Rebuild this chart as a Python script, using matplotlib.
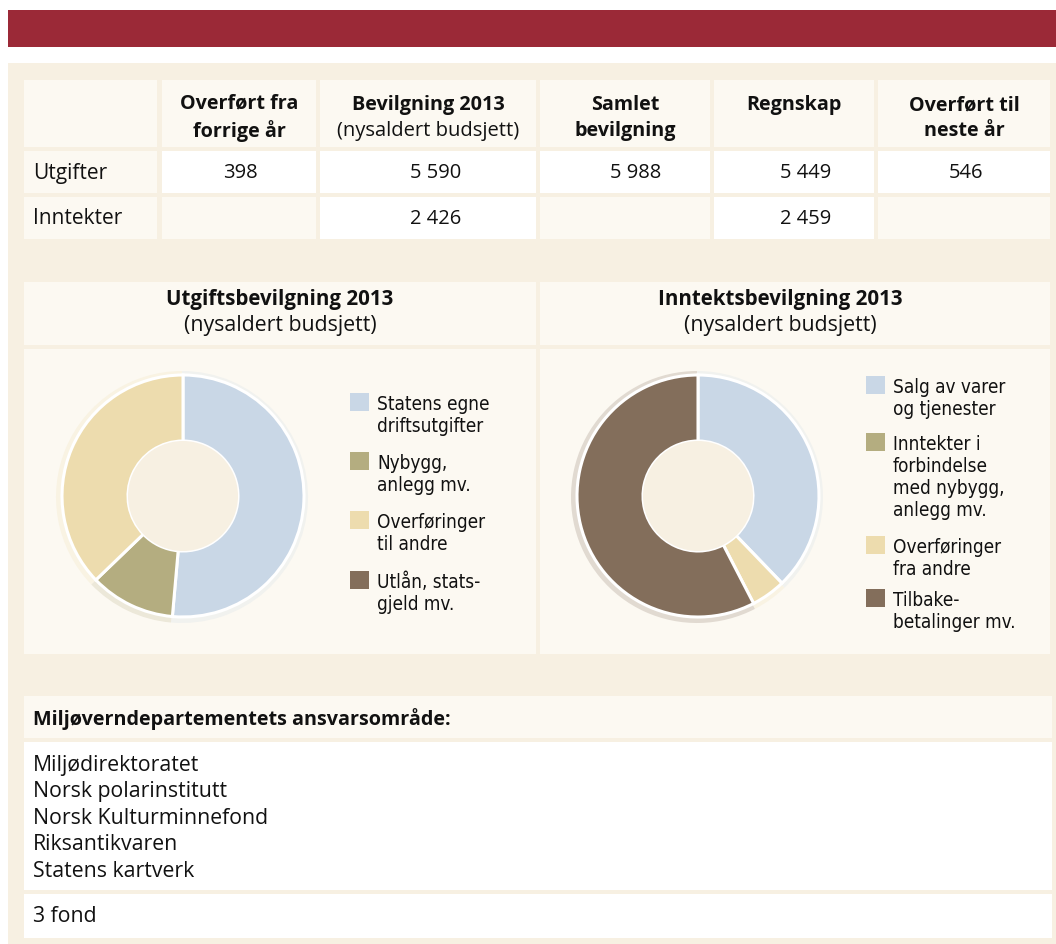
import matplotlib
matplotlib.use("Agg")
import matplotlib.pyplot as plt
from matplotlib.patches import Rectangle, Circle
from matplotlib.colors import to_rgb
from matplotlib import font_manager

W, H = 1056, 944

# table data
col_titles = ["Overført fra\nforrige år", "Bevilgning 2013", "Samlet\nbevilgning", "Regnskap", "Overført til\nneste år"]
col_subtitles = ["", "(nysaldert budsjett)", "", "", ""]
row_labels = ["Utgifter", "Inntekter"]
utgifter_vals = ["398", "5 590", "5 988", "5 449", "546"]
inntekter_vals = ["", "2 426", "", "2 459", ""]

# donut data (share of total, %)
utg_title = "Utgiftsbevilgning 2013"
utg_labels = ["Statens egne\ndriftsutgifter", "Nybygg,\nanlegg mv.", "Overføringer\ntil andre", "Utlån, stats-\ngjeld mv."]
utg_shares = [51.4, 11.4, 37.2, 0.0]
inn_title = "Inntektsbevilgning 2013"
inn_labels = ["Salg av varer\nog tjenester", "Inntekter i\nforbindelse\nmed nybygg,\nanlegg mv.", "Overføringer\nfra andre", "Tilbake-\nbetalinger mv."]
inn_shares = [37.8, 0.0, 4.6, 57.6]
pie_subtitle = "(nysaldert budsjett)"

# responsibility list
area_title = "Miljøverndepartementets ansvarsområde:"
units = ["Miljødirektoratet", "Norsk polarinstitutt", "Norsk Kulturminnefond", "Riksantikvaren", "Statens kartverk"]
fund_line = "3 fond"

RED = "#9B2937"
PANEL = "#F7F0E2"
LIGHT = "#FCF9F2"
WHITE = "#FFFFFF"
slice_colors = ["#C9D7E6", "#B4AD80", "#EDDCAE", "#836E5B"]

plt.rcParams['font.family'] = ['Open Sans', 'DejaVu Sans']

# a narrow face for the legend texts, if one is installed
narrow = dict(family=['Roboto', 'DejaVu Sans'], fontstretch='normal', size=13.2)
for fam, stretch in [('Liberation Sans Narrow', 'normal'), ('DejaVu Sans', 'condensed')]:
    try:
        path = font_manager.findfont(font_manager.FontProperties(family=fam, stretch=stretch),
                                     fallback_to_default=False)
    except ValueError:
        continue
    if 'Narrow' in path or 'Condensed' in path:
        narrow = dict(family=[fam, 'DejaVu Sans'], fontstretch=stretch, size=13.6)
        break

fig = plt.figure(figsize=(W / 100, H / 100), dpi=100)
ax = fig.add_axes([0, 0, 1, 1])


def box(x0, y0, x1, y1, color, z=1):
    ax.add_patch(Rectangle((x0, H - y1), x1 - x0, y1 - y0, facecolor=color, edgecolor='none', zorder=z))


def txt(x, y, s, **kw):
    kw.setdefault('color', '#111111')
    kw.setdefault('va', 'center')
    return ax.text(x, H - y, s, zorder=10, **kw)


def mix(c, bg, a):
    c, bg = to_rgb(c), to_rgb(bg)
    return tuple(a * ci + (1 - a) * bi for ci, bi in zip(c, bg))


# background frame
box(8, 10, W, 47, RED)
box(8, 63, W, H, PANEL)

# table
cols = [(24, 157), (162, 316), (320, 536), (540, 710), (714, 874), (878, 1050)]
val_x = [240, 436, 636, 806, 966]
box(cols[0][0], 80, cols[0][1], 147, LIGHT)
for i, (x0, x1) in enumerate(cols[1:]):
    box(x0, 80, x1, 147, LIGHT)
    cx = (x0 + x1) / 2
    if col_subtitles[i]:
        txt(cx, 105, col_titles[i], ha='center', fontsize=14.2, fontweight='bold')
        txt(cx, 131, col_subtitles[i], ha='center', fontsize=14.5)
    else:
        txt(cx, 105 if '\n' not in col_titles[i] else 118, col_titles[i], ha='center',
            fontsize=14.2, fontweight='bold', linespacing=1.4)

row_y = [(151, 193), (197, 239)]
for (y0, y1), lab, vals in zip(row_y, row_labels, [utgifter_vals, inntekter_vals]):
    box(cols[0][0], y0, cols[0][1], y1, LIGHT)
    txt(33, (y0 + y1) / 2 + 1, lab, ha='left', fontsize=15)
    for j, (x0, x1) in enumerate(cols[1:]):
        box(x0, y0, x1, y1, WHITE if vals[j] else LIGHT)
        if vals[j]:
            txt(val_x[j], (y0 + y1) / 2 + 1, vals[j], ha='center', fontsize=14.5)

# donut panels
panels = [
    (24, 536, 280, 183, 350, utg_title, utg_labels, utg_shares, [393, 452, 511, 571]),
    (540, 1050, 780, 698, 866, inn_title, inn_labels, inn_shares, [376, 433, 536, 589]),
]
R, R_IN = 121, 55
for x0, x1, tx, cx, lx, title, labels, shares, tops in panels:
    box(x0, 282, x1, 345, LIGHT)
    box(x0, 349, x1, 654, LIGHT)
    txt(tx, 300, title, ha='center', fontsize=14.8, fontweight='bold')
    txt(tx, 326, pie_subtitle, ha='center', fontsize=15.3)

    vals = [v for v in shares if v > 0]
    cols_used = [c for v, c in zip(shares, slice_colors) if v > 0]
    # soft outer halo
    ax.pie(vals, colors=[mix(c, LIGHT, 0.22) for c in cols_used], radius=R + 5,
           center=(cx - 1, H - 496 - 1), startangle=90, counterclock=False, frame=True,
           wedgeprops=dict(width=20, linewidth=0))
    ax.pie(vals, colors=cols_used, radius=R, center=(cx, H - 496), startangle=90,
           counterclock=False, frame=True,
           wedgeprops=dict(width=R - R_IN, edgecolor='white', linewidth=2.2))
    ax.add_patch(Circle((cx, H - 496), R_IN, facecolor=PANEL, edgecolor='none', zorder=5))

    for lab, col, top in zip(labels, slice_colors, tops):
        box(lx, top, lx + 19, top + 18, col, z=6)
        txt(lx + 27, top + 2, lab, ha='left', va='top', linespacing=1.2, **narrow)

# responsibility area
box(24, 696, 1052, 738, LIGHT)
txt(33, 719, area_title, ha='left', fontsize=14.2, fontweight='bold')
box(24, 742, 1052, 890, WHITE)
for k, u in enumerate(units):
    txt(33, 765 + k * 26.6, u, ha='left', fontsize=15.3)
box(24, 894, 1052, 938, WHITE)
txt(33, 917, fund_line, ha='left', fontsize=15.3)

ax.set_xlim(0, W)
ax.set_ylim(0, H)
ax.set_aspect('auto')
ax.axis('off')

fig.savefig('out.png', dpi=100, facecolor='white')
